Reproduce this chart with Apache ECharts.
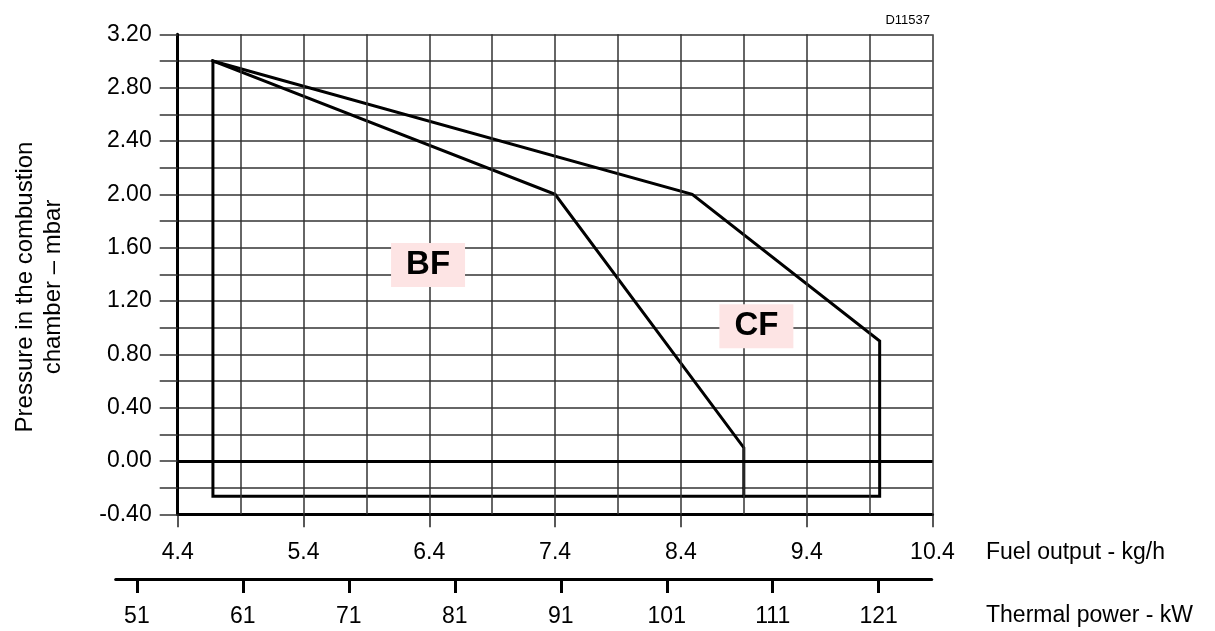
<!DOCTYPE html>
<html>
<head>
<meta charset="utf-8">
<script src="https://cdn.jsdelivr.net/npm/echarts@6/dist/echarts.min.js"></script>
<style>
html,body{margin:0;padding:0;background:#fff;}
#chart{width:1215px;height:631px;}
</style>
</head>
<body>
<div id="chart"></div>
<script>
// ---- data ----
const fuelMin = 4.4, fuelMax = 10.4;
const fuelTicks = [4.4, 5.4, 6.4, 7.4, 8.4, 9.4, 10.4];
const fuelGridLines = [4.9, 5.4, 5.9, 6.4, 6.9, 7.4, 7.9, 8.4, 8.9, 9.4, 9.9, 10.4];
const powerMin = 49, powerMax = 126;
const powerTicks = [51, 61, 71, 81, 91, 101, 111, 121];
const pressureMin = -0.4, pressureMax = 3.2, pressureStep = 0.2;
const pressureLabels = [-0.4, 0, 0.4, 0.8, 1.2, 1.6, 2.0, 2.4, 2.8, 3.2];
// CF envelope (outer)
const cfX = [4.68, 4.68, 8.49, 9.98, 9.98, 4.68];
const cfY = [-0.265, 3.0, 2.0, 0.9, -0.265, -0.265];
// BF envelope (inner boundary)
const bfX = [4.68, 7.4, 8.9, 8.9];
const bfY = [3.0, 2.0, 0.1, -0.265];
// zone labels (data coordinates)
const zoneNames = ['BF', 'CF'];
const zoneX = [6.39, 9.0];
const zoneY = [1.47, 1.01];

const FONT = "'Liberation Sans', Arial, sans-serif";
const zip = (xs, ys) => xs.map((x, i) => [x, ys[i]]);

const chart = echarts.init(document.getElementById('chart'), null, {renderer: 'canvas'});
const gridColor = '#333333';

const option = {
  animation: false,
  backgroundColor: '#ffffff',
  grid: [
    {left: 177.7, right: 282.5, top: 34.3, bottom: 116.7},
    {left: 115.7, right: 283.3, top: 560, bottom: 52}
  ],
  xAxis: [
    {
      type: 'value', gridIndex: 0, min: fuelMin, max: fuelMax,
      axisLine: {show: true, onZero: false, lineStyle: {color: '#000', width: 3}},
      axisTick: {show: true, customValues: fuelTicks, length: 13, lineStyle: {color: '#222', width: 1.5}},
      axisLabel: {show: true, customValues: fuelTicks, margin: 27, color: '#000', fontSize: 23, fontFamily: FONT,
        formatter: v => v.toFixed(1)},
      splitLine: {show: false}
    },
    {
      type: 'value', gridIndex: 1, min: powerMin, max: powerMax,
      axisLine: {show: true, onZero: false, lineStyle: {color: '#000', width: 3}},
      axisTick: {show: true, customValues: powerTicks, length: 14, lineStyle: {color: '#000', width: 3}},
      axisLabel: {show: true, customValues: powerTicks, margin: 26, color: '#000', fontSize: 23, fontFamily: FONT},
      splitLine: {show: false}
    }
  ],
  yAxis: [
    {
      type: 'value', gridIndex: 0, min: pressureMin, max: pressureMax, interval: pressureStep,
      axisLine: {show: true, lineStyle: {color: '#000', width: 3}},
      axisTick: {show: true, length: 18, lineStyle: {color: gridColor, width: 1.5}},
      axisLabel: {show: true, customValues: pressureLabels, margin: 26, color: '#000', fontSize: 23, fontFamily: FONT,
        formatter: v => (Math.abs(v) < 1e-9 ? 0 : v).toFixed(2)},
      splitLine: {show: true, lineStyle: {color: gridColor, width: 1.5}}
    },
    {type: 'value', gridIndex: 1, min: 0, max: 1, show: false}
  ],
  series: [
    {
      type: 'line', xAxisIndex: 0, yAxisIndex: 0, data: [], z: 1, silent: true,
      markLine: {
        silent: true, symbol: 'none', animation: false,
        label: {show: false},
        lineStyle: {color: gridColor, width: 1.5, type: 'solid'},
        data: fuelGridLines.map(v => ({xAxis: v}))
      }
    },
    {
      type: 'line', xAxisIndex: 0, yAxisIndex: 0, data: [], z: 2, silent: true,
      markLine: {
        silent: true, symbol: 'none', animation: false,
        label: {show: false},
        lineStyle: {color: '#000', width: 3, type: 'solid'},
        data: [{yAxis: 0}]
      }
    },
    {
      name: 'CF', type: 'line', xAxisIndex: 0, yAxisIndex: 0, z: 3,
      data: zip(cfX, cfY), symbol: 'none',
      lineStyle: {color: '#000', width: 3, join: 'miter', cap: 'square'}
    },
    {
      name: 'BF', type: 'line', xAxisIndex: 0, yAxisIndex: 0, z: 3,
      data: zip(bfX, bfY), symbol: 'none',
      lineStyle: {color: '#000', width: 3, join: 'miter', cap: 'square'}
    },
    {
      type: 'scatter', xAxisIndex: 0, yAxisIndex: 0, z: 5, symbolSize: 0,
      itemStyle: {opacity: 1},
      data: zoneNames.map((n, i) => ({name: n, value: [zoneX[i], zoneY[i]]})),
      label: {
        show: true, position: 'inside', formatter: p => p.name,
        color: '#000000', fontSize: 33, fontWeight: 'bold', fontFamily: FONT, opacity: 1,
        backgroundColor: '#fde4e4', padding: [5, 15, 5, 15], lineHeight: 34
      }
    }
  ],
  graphic: [
    {type: 'text', x: 930, y: 20, style: {text: 'D11537', textAlign: 'right', textVerticalAlign: 'middle', font: "13px " + FONT, fill: '#000'}},
    {type: 'text', x: 986, y: 553, style: {text: 'Fuel output - kg/h', textAlign: 'left', textVerticalAlign: 'middle', font: "23px " + FONT, fill: '#000'}},
    {type: 'text', x: 986, y: 616, style: {text: 'Thermal power - kW', textAlign: 'left', textVerticalAlign: 'middle', font: "23px " + FONT, fill: '#000'}},
    {type: 'text', x: 39, y: 287, rotation: Math.PI / 2,
      style: {text: 'Pressure in the combustion\nchamber – mbar', textAlign: 'center', textVerticalAlign: 'middle', lineHeight: 28, font: "24px " + FONT, fill: '#000'}}
  ]
};
chart.setOption(option);
</script>
</body>
</html>
